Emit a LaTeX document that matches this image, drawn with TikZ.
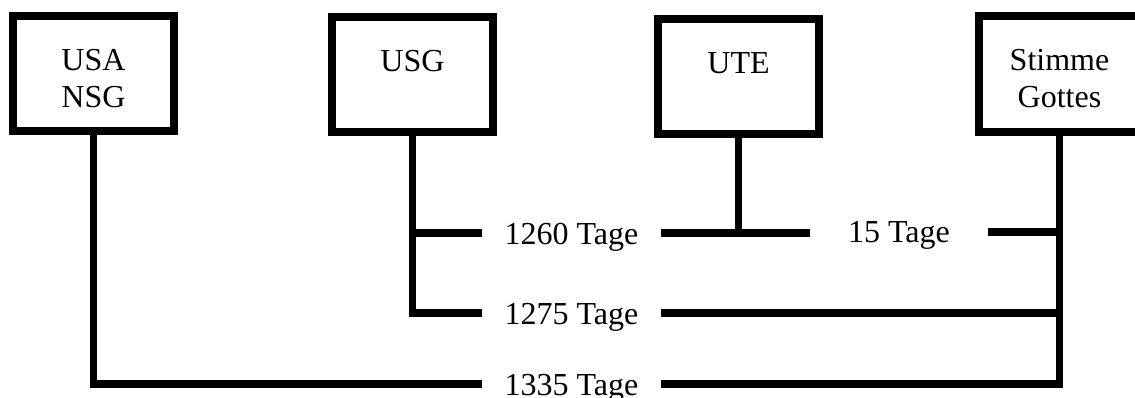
\documentclass[tikz,border=0pt]{standalone}
\usepackage{fontspec}
\setmainfont{Liberation Serif}
\begin{document}
\begin{tikzpicture}[x=1pt, y=-1pt, line width=7.8pt,
    box/.style={draw, minimum width=161.5pt, minimum height=115.5pt, align=center, text height=68pt, text depth=0pt, font=\fontsize{32}{37}\selectfont},
    days/.style={inner xsep=19pt, inner ysep=0pt, text height=22pt, text depth=0pt, font=\fontsize{32}{37}\selectfont}]
    \useasboundingbox (0,0) rectangle (1135,398);

    \node[box] (nsg) at (93.5,73.5) {USA\\NSG};
    \node[box] (usg) at (412.5,74.5) {USG\\\mbox{}};
    \node[box] (ute) at (738.5,76.5) {UTE\\\mbox{}};
    \node[box] (god) at (1059.5,74) {Stimme\\Gottes};

    \node[days] (t1260) at (571.5,233) {1260 Tage};
    \node[days, below of=t1260, node distance=80pt] (t1275) {1275 Tage};
    \node[days, below of=t1275, node distance=71pt] (t1335) {1335 Tage};
    \node[days, inner xsep=34pt] (t15) at (899,232) {15 Tage};

    \draw (usg.south) |- (t1275.west);
    \draw (usg.south |- t1260.west) -- (t1260.west);
    \draw (t1260.east) -- (t1260.east -| t15.west);
    \draw (ute.south) -- (ute.south |- t1260.east);
    \draw (t15.east) -- (t15.east -| god.south);

    \draw (t1275.east) -- (t1275.east -| god.south);
    \draw (nsg.south) |- (t1335.west);
    \draw (t1335.east) -| (god.south);

\end{tikzpicture}
\end{document}
